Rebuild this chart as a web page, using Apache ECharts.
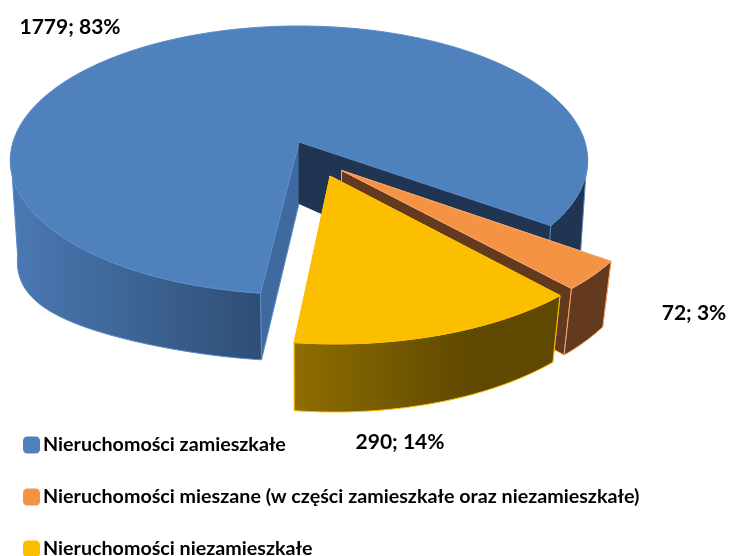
<!DOCTYPE html>
<html>
<head>
<meta charset="utf-8">
<style>html,body{margin:0;padding:0;background:#fff}#c{width:730px;height:556px}</style>
<script src="https://cdn.jsdelivr.net/npm/echarts@6/dist/echarts.min.js"></script>
</head>
<body>
<div id="c"></div>
<script>
const categories = ['Nieruchomości zamieszkałe', 'Nieruchomości mieszane (w części zamieszkałe oraz niezamieszkałe)', 'Nieruchomości niezamieszkałe'];
const values = [1779, 72, 290];
const percents = [83, 3, 14];

const total = values.reduce((a, b) => a + b, 0);
const START = 186.7;
const view = { cx: 299, cy: 142, R: 286, k: 131.7, h: 63, D: 7.4, zf: 0.18 };
const explode = [[0, 0], [0.145, 0.21], [0.105, 0.25]];
const radius = [1, 1.02, 1.02];
const bulge = [0.65, 0, 0];
const labelPos = [[70, 27], [694, 313], [400, 442]];
const looks = [
  { top: '#4f81bd', edge: '#5a8cc8', cutEnd: '#3f6a9f', cutStart: '#1f3552',
    walls: [{ from: 18, to: 262, c0: '#4a78b2', c1: '#2e4e75' }, { from: 540, to: 590, c0: '#1f3552', c1: '#1f3552' }] },
  { top: '#f59344', edge: '#f9a66e', cutEnd: '#633a1d', cutStart: '#633a1d',
    walls: [{ from: 560, to: 615, c0: '#633a1d', c1: '#633a1d' }] },
  { top: '#fcbf00', edge: '#ffc000', cutEnd: '#8f6d00', cutStart: '#5f4900',
    walls: [{ from: 294, to: 470, c0: '#8f6d00', c1: '#5f4900' }] }
];

function project(X, Y, Z, X0, b) {
  const s = view.D / (view.D - Y + view.zf * Z);
  const hh = view.h * (1 + (b || 0) * Math.pow(Math.abs(X0 || 0), 3));
  return [view.cx + view.R * X * s, view.cy + (view.k * Y + hh * Z) * s];
}
function rim(deg, idx, Z) {
  const t = deg * Math.PI / 180, off = explode[idx], r = radius[idx];
  const X0 = Math.sin(t);
  return project(r * X0 + off[0], -r * Math.cos(t) + off[1], Z, X0, bulge[idx]);
}
function arc(a, b, idx, Z) {
  const n = Math.max(2, Math.ceil(Math.abs(b - a) / 1.5));
  const pts = [];
  for (let i = 0; i <= n; i++) pts.push(rim(a + (b - a) * i / n, idx, Z));
  return pts;
}
function poly(points, fill, stroke, z2) {
  return { type: 'polygon', z2: z2, shape: { points: points }, style: { fill: fill, stroke: stroke, lineWidth: 1, lineJoin: 'round' }, silent: true };
}
function grad(w) {
  return { type: 'linear', x: w.from, y: 0, x2: w.to, y2: 0, global: true,
    colorStops: [{ offset: 0, color: w.c0 }, { offset: 1, color: w.c1 }] };
}

function sliceItem(idx) {
  return function (params, api) {
    const v = api.value(0);
    let before = 0;
    for (let i = 0; i < idx; i++) before += values[i];
    const a = START + before / total * 360;
    const b = a + v / total * 360;
    const off = explode[idx];
    const look = looks[idx];
    const apexT = project(off[0], off[1], 0);
    const apexB = project(off[0], off[1], 1);
    const kids = [];
    // cut faces
    kids.push(poly([apexT, rim(a, idx, 0), rim(a, idx, 1), apexB], look.cutEnd, look.edge, 1));
    kids.push(poly([apexT, rim(b, idx, 0), rim(b, idx, 1), apexB], look.cutStart, idx === 0 ? look.cutStart : look.edge, 1));
    // outer walls, only the part of the rim that faces the viewer
    const ranges = [[95, 265], [455, 625]];
    let w = 0;
    ranges.forEach(function (r) {
      const lo = Math.max(a, r[0]), hi = Math.min(b, r[1]);
      if (lo < hi) {
        const look2 = look.walls[Math.min(w, look.walls.length - 1)];
        w++;
        const pts = arc(lo, hi, idx, 0).concat(arc(hi, lo, idx, 1));
        kids.push(poly(pts, grad(look2), look.edge, 2));
      }
    });
    // top
    kids.push(poly([apexT].concat(arc(a, b, idx, 0)), look.top, look.edge, 3));
    // label
    kids.push({ type: 'text', z2: 10, silent: true, style: {
      x: labelPos[idx][0], y: labelPos[idx][1], text: v + '; ' + percents[idx] + '%',
      fill: '#000', font: 'bold 21px Lato', align: 'center', verticalAlign: 'middle' } });
    return { type: 'group', children: kids };
  };
}

const chart = echarts.init(document.getElementById('c'), null, { renderer: 'canvas' });
chart.setOption({
  animation: false,
  legend: {
    orient: 'vertical', left: 23, top: 435, height: 400, itemWidth: 17, itemHeight: 17, itemGap: 32,
    icon: 'roundRect', padding: 0, selectedMode: false, data: categories,
    textStyle: { color: '#000', fontFamily: 'Lato', fontWeight: 'bold', fontSize: 19.7, padding: [0, 0, 0, -2] }
  },
  series: categories.map(function (name, i) {
    return {
      type: 'custom', name: name, coordinateSystem: 'none',
      itemStyle: { color: looks[i].top }, z: i + 1, silent: true,
      renderItem: sliceItem(i), data: [[values[i]]]
    };
  })
});
</script>
</body>
</html>
